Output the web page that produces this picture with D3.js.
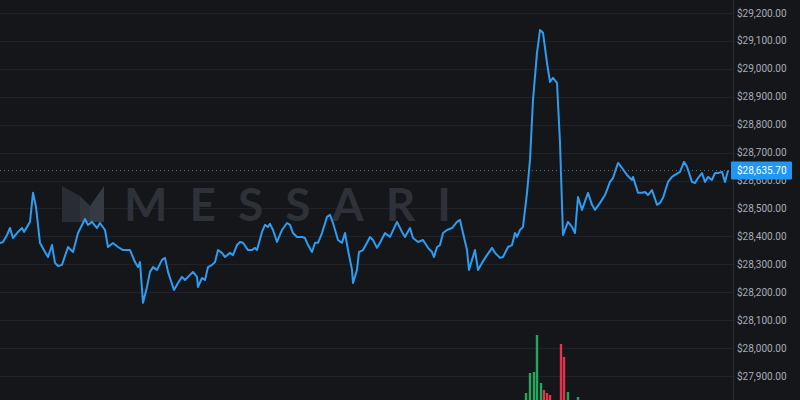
<!DOCTYPE html>
<html><head><meta charset="utf-8">
<script src="https://cdn.jsdelivr.net/npm/d3@7"></script>
<style>html,body{margin:0;padding:0;background:#15161a;overflow:hidden}</style>
</head><body>
<svg id="c" width="800" height="400"></svg>
<script>
// time step (chart column) and BTC price
const times = [0,3,7,10,13,18,22,24,30,33,36,40,45,48,52,55,58,62,68,73,78,85,88,92,97,100,105,108,113,118,123,128,130,135,138,140,143,147,150,153,157,162,165,168,174,178,182,185,190,193,197,198,202,205,208,212,215,218,222,225,230,233,237,240,243,248,252,255,257,262,265,268,270,273,277,282,287,290,293,297,302,305,308,312,315,318,322,327,330,333,338,342,345,348,352,353,357,359,363,367,370,373,377,380,385,390,397,402,405,410,413,418,423,428,432,434,437,440,443,447,452,457,460,463,467,469,472,475,478,482,487,492,495,500,503,508,512,515,517,520,523,527,530,533,537,540,543,547,550,553,557,560,563,568,572,575,578,582,588,592,595,600,605,610,613,618,622,627,632,633,638,642,645,648,652,657,660,663,668,672,675,680,684,687,692,695,698,702,705,708,712,715,718,722,725,728];
const prices = [28376,28380,28405,28430,28394,28416,28430,28416,28452,28556,28505,28376,28344,28326,28369,28305,28294,28298,28362,28344,28412,28462,28441,28452,28430,28448,28423,28362,28376,28362,28351,28351,28351,28308,28290,28308,28162,28219,28273,28290,28280,28316,28323,28273,28208,28233,28255,28244,28262,28273,28255,28219,28251,28244,28290,28298,28308,28351,28341,28326,28341,28333,28369,28380,28377,28351,28351,28359,28351,28416,28441,28434,28445,28423,28380,28423,28448,28441,28412,28398,28398,28394,28369,28344,28377,28377,28412,28470,28477,28448,28387,28377,28412,28351,28280,28233,28280,28344,28351,28377,28398,28387,28359,28377,28412,28398,28452,28416,28398,28430,28394,28380,28387,28359,28344,28326,28362,28369,28412,28423,28430,28452,28459,28412,28351,28280,28316,28351,28280,28305,28333,28359,28341,28323,28326,28362,28369,28412,28398,28423,28434,28556,28674,28889,29057,29139,29129,29021,28953,28968,28950,28735,28405,28452,28434,28412,28541,28495,28556,28513,28495,28520,28548,28595,28609,28663,28645,28620,28602,28613,28556,28556,28559,28548,28566,28513,28520,28538,28595,28613,28620,28631,28667,28649,28595,28591,28609,28627,28595,28613,28602,28627,28627,28631,28595,28635.7];
const lastPrice = 28635.70;
// volume bars
const volTimes = [526,530,534,537,541,544,547,550,561,564,568,578];
const volumes  = [70,270,280,650,170,100,70,50,560,430,80,30];
const volUp    = [1,1,1,1,1,0,0,0,0,0,1,1];
const yTicks = [27900,28000,28100,28200,28300,28400,28500,28600,28700,28800,28900,29000,29100,29200];

const W = 800, H = 400, plotR = 733;
const svg = d3.select('#c');
svg.append('rect').attr('width',W).attr('height',H).attr('fill','#15161a');

const x = d3.scaleLinear().domain([0,733]).range([0,plotR]);
const y = d3.scaleLinear().domain([27900,29200]).range([376,13]);
const yv = d3.scaleLinear().domain([0,650]).range([400,335]);

// grid
svg.append('g').selectAll('line').data(yTicks).join('line')
  .attr('x1',0).attr('x2',plotR).attr('y1',d=>Math.round(y(d))+0.5).attr('y2',d=>Math.round(y(d))+0.5)
  .attr('stroke','#202228').attr('stroke-width',1);

// watermark
const wm = svg.append('g');
wm.append('polygon').attr('points','62,186 80,196 80,222 62,222').attr('fill','#282c33');
wm.append('polygon').attr('points','80,196 90,206 90,222 80,222').attr('fill','#30353d');
wm.append('polygon').attr('points','90,206 104,186 104,222 90,222').attr('fill','#363b43');
wm.append('text').attr('x',124).attr('y',221).text('MESSARI')
  .attr('font-family','Lato, "Open Sans", sans-serif').attr('font-weight',700)
  .attr('font-size',46).attr('letter-spacing',22).attr('fill','#2e3138');

// axis separator
svg.append('line').attr('x1',plotR+0.5).attr('x2',plotR+0.5).attr('y1',0).attr('y2',H)
  .attr('stroke','#2a2d33');

// volume
svg.append('g').selectAll('rect').data(volTimes).join('rect')
  .attr('x',(d)=>x(d)-1.2).attr('width',2.4)
  .attr('y',(d,i)=>yv(volumes[i])).attr('height',(d,i)=>400-yv(volumes[i]))
  .attr('fill',(d,i)=>volUp[i]?'#26a65b':'#e0344a');

// price line (dotted)
svg.append('line').attr('x1',0).attr('x2',plotR).attr('y1',y(lastPrice)).attr('y2',y(lastPrice))
  .attr('stroke','#5f7384').attr('stroke-width',1).attr('stroke-dasharray','1,3');

// main line
const line = d3.line().x((d,i)=>x(times[i])).y(d=>y(d));
svg.append('path').datum(prices).attr('d',line).attr('fill','none')
  .attr('stroke','#2e9cf0').attr('stroke-width',2).attr('stroke-linejoin','round');

// axis labels
const fmt = d3.format('$,.2f');
svg.append('g').selectAll('text').data(yTicks).join('text')
  .attr('x',737).attr('y',d=>y(d)).attr('dy','0.35em')
  .attr('font-family','Roboto, sans-serif').attr('font-size',10).attr('fill','#a9acb4')
  .text(d=>fmt(d));

// last price label
const ly = y(lastPrice);
svg.append('rect').attr('x',731).attr('y',ly-9).attr('width',61).attr('height',18).attr('fill','#2196f3').attr('rx',1);
svg.append('text').attr('x',737).attr('y',ly).attr('dy','0.35em')
  .attr('font-family','Roboto, sans-serif').attr('font-size',10).attr('fill','#ffffff')
  .text(fmt(lastPrice));
</script>
</body></html>
